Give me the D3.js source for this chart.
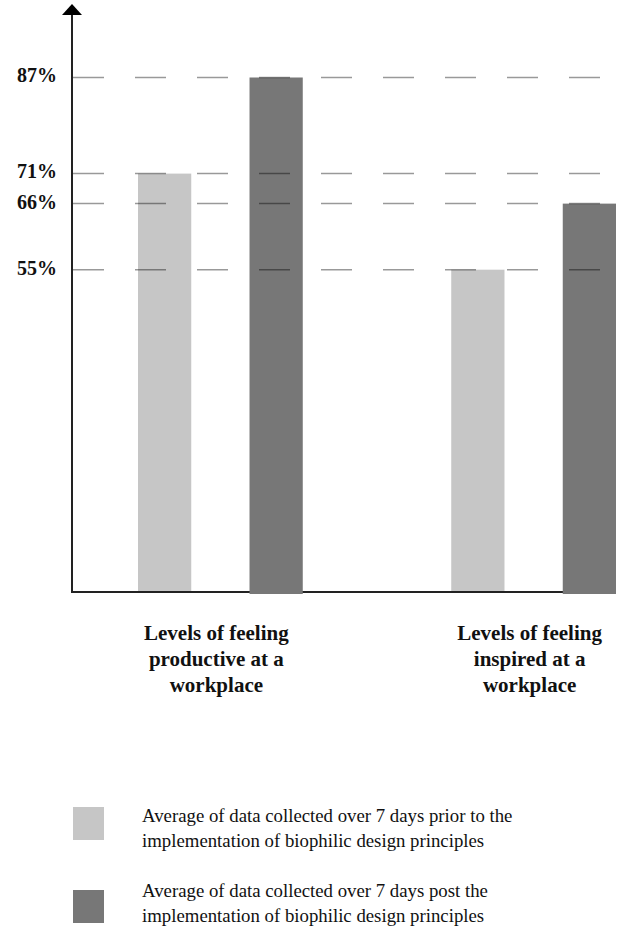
<!DOCTYPE html>
<html><head><meta charset="utf-8">
<script src="https://cdn.jsdelivr.net/npm/d3@7"></script>
<style>
html,body{margin:0;padding:0;background:#fff;}
svg{display:block;}
</style>
</head><body>
<svg id="chart" width="624" height="931"></svg>
<script>
// ---- data ----
const categories = [
  ["Levels of feeling", "productive at a", "workplace"],
  ["Levels of feeling", "inspired at a", "workplace"]
];
const seriesNames = ["prior", "post"];
const priorValues = [71, 55];
const postValues = [87, 66];
const tickValues = [55, 66, 71, 87];
const tickLabels = ["55%", "66%", "71%", "87%"];
const legendLabels = [
  ["Average of data collected over 7 days prior to the", "implementation of biophilic design principles"],
  ["Average of data collected over 7 days post the", "implementation of biophilic design principles"]
];
const colors = ["#c6c6c6", "#777777"];

// ---- layout ----
const svg = d3.select("#chart");
const axisX = 72, axisY = 592;
const y = d3.scaleLinear().domain([0, 87]).range([600, 77.5]);
const x0 = d3.scaleBand().domain(d3.range(categories.length)).range([138, 616]).paddingInner(0.474).paddingOuter(0);
const x1 = d3.scaleBand().domain(seriesNames).range([0, x0.bandwidth()]).paddingInner(0.5225).paddingOuter(0);

const data = categories.map((c, i) => ({i, vals: [priorValues[i], postValues[i]]}));
const serif = "'Liberation Serif','Times New Roman',serif";

// light bars (under axis)
svg.append("g").selectAll("rect").data(data).join("rect")
  .attr("x", d => x0(d.i) + x1("prior"))
  .attr("y", d => y(d.vals[0]))
  .attr("width", x1.bandwidth())
  .attr("height", d => axisY - 1 - y(d.vals[0]))
  .attr("fill", colors[0]);

// x axis baseline
svg.append("line").attr("x1", axisX - 1).attr("x2", x0(1) + x0.bandwidth())
  .attr("y1", axisY).attr("y2", axisY).attr("stroke", "#222").attr("stroke-width", 2);

// dark bars (over axis)
svg.append("g").selectAll("rect").data(data).join("rect")
  .attr("x", d => x0(d.i) + x1("post"))
  .attr("y", d => y(d.vals[1]))
  .attr("width", x1.bandwidth())
  .attr("height", d => axisY + 2 - y(d.vals[1]))
  .attr("fill", colors[1]);

// y tick labels
const yAxis = d3.axisLeft(y).tickValues(tickValues).tickFormat((d, i) => tickLabels[i]).tickSize(0).tickPadding(15);
const gAxis = svg.append("g").attr("transform", `translate(${axisX},0)`).call(yAxis);
gAxis.select(".domain").remove();
gAxis.selectAll("text").attr("font-family", serif).attr("font-weight", "bold").attr("font-size", 20).attr("fill", "#111").attr("dy", "0.22em");

// dashed gridlines on top
svg.append("g").selectAll("line").data(tickValues).join("line")
  .attr("x1", axisX + 1).attr("x2", 602)
  .attr("y1", d => y(d)).attr("y2", d => y(d))
  .attr("stroke", "#000").attr("stroke-opacity", 0.4).attr("stroke-width", 1.5)
  .attr("stroke-dasharray", "31,31");

// y axis with arrow
svg.append("line").attr("x1", axisX).attr("x2", axisX).attr("y1", 14).attr("y2", axisY + 1)
  .attr("stroke", "#222").attr("stroke-width", 2);
svg.append("path").attr("d", `M${axisX - 10},15 L${axisX + 10},15 L${axisX},4 Z`).attr("fill", "#000");

// category labels
const catG = svg.append("g");
categories.forEach((lines, i) => {
  const cx = x0(i) + x0.bandwidth() / 2 - 4;
  const t = catG.append("text").attr("x", cx).attr("y", 640)
    .attr("text-anchor", "middle").attr("font-family", serif).attr("font-weight", "bold")
    .attr("font-size", 21).attr("fill", "#111");
  lines.forEach((ln, j) => t.append("tspan").attr("x", cx).attr("dy", j === 0 ? 0 : 26).text(ln));
});

// legend
const leg = svg.append("g");
legendLabels.forEach((lines, i) => {
  const top = 807 + i * 83;
  leg.append("rect").attr("x", 73).attr("y", top).attr("width", 31).attr("height", 33).attr("fill", colors[i]);
  const t = leg.append("text").attr("x", 142).attr("y", 822 + i * 75)
    .attr("font-family", serif).attr("font-size", 18.8).attr("fill", "#111");
  lines.forEach((ln, j) => t.append("tspan").attr("x", 142).attr("dy", j === 0 ? 0 : 24.5).text(ln));
});
</script>
</body></html>
